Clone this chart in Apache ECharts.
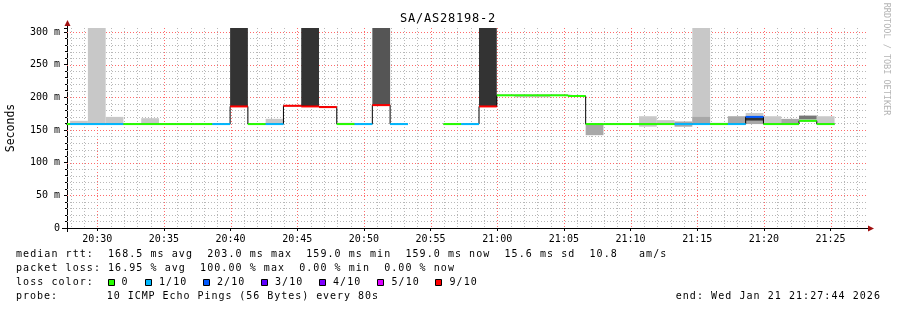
<!DOCTYPE html>
<html>
<head>
<meta charset="utf-8">
<script src="https://cdn.jsdelivr.net/npm/echarts@6.0.0/dist/echarts.min.js"></script>
<style>
html,body{margin:0;padding:0;background:#ffffff;}
#chart{width:897px;height:310px;}
</style>
</head>
<body>
<div id="chart"></div>
<script>
// ================= DATA =================
const chartTitle = 'SA/AS28198-2';
const yAxisTitle = 'Seconds';
const axisStart = '20:27:44';
const axisEnd = '21:27:44';
const stepSeconds = 80;
const xTickLabels = ['20:30','20:35','20:40','20:45','20:50','20:55','21:00','21:05','21:10','21:15','21:20','21:25'];
const yTickValues = [0, 50, 100, 150, 200, 250, 300];

// start time of each 80 s measurement step
const stepStarts = [
  '20:26:38','20:27:58','20:29:18','20:30:38','20:31:58','20:33:18','20:34:38','20:35:58',
  '20:37:18','20:38:38','20:39:58','20:41:18','20:42:38','20:43:58','20:45:18','20:46:38',
  '20:47:58','20:49:18','20:50:38','20:51:58','20:53:18','20:54:38','20:55:58','20:57:18',
  '20:58:38','20:59:58','21:01:18','21:02:38','21:03:58','21:05:18','21:06:38','21:07:58',
  '21:09:18','21:10:38','21:11:58','21:13:18','21:14:38','21:15:58','21:17:18','21:18:38',
  '21:19:58','21:21:18','21:22:38','21:23:58'
];
// median rtt (ms) per step, null = no reply (100% loss)
const medianMs = [
  159,159,159,159,159,159,159,159,
  159,159,186,159,159,187,186,185,
  159,159,188,159,null,null,159,159,
  186,203,203,203,203,202,159,159,
  159,159,159,159,159,159,159,170,
  159,159,164,159
];
// lost pings out of 10 per step
const lossCount = [
  0,1,1,1,0,0,0,0,
  0,1,9,0,1,9,9,9,
  0,1,9,1,10,10,0,1,
  9,0,0,0,0,0,0,0,
  0,0,0,1,1,0,1,2,
  0,0,0,0
];
// smoke: [step index, low ms, high ms, density level 0..4]  (350 = beyond the top)
const smokeBands = [
  [1,159,164,0],[2,159,350,0],[3,159,170,0],[5,159,168,0],
  [10,186,350,4],[12,159,167,0],[14,186,350,4],[16,159,161,0],
  [18,188,350,3],[24,186,350,4],[26,200,203,0],[27,200,203,0],
  [30,142,159,1],[33,155,171,0],[34,159,165,0],[35,155,163,1],
  [36,159,350,0],[36,159,170,1],[37,159,161,0],[38,159,171,1],
  [39,171,176,0],[39,164,169,4],[39,159,164,1],[40,159,171,0],
  [41,159,167,1],[42,166,172,2],[43,159,171,0]
];
const lossLegendLabels = ['0','1/10','2/10','3/10','4/10','5/10','9/10'];
const lossLegendLevels = [0,1,2,3,4,5,9];
const statsLine1 = 'median rtt:  168.5 ms avg  203.0 ms max  159.0 ms min  159.0 ms now  15.6 ms sd  10.8   am/s';
const statsLine2 = 'packet loss: 16.95 % avg  100.00 % max  0.00 % min  0.00 % now';
const lossLabel = 'loss color:';
const probeLine = 'probe:       10 ICMP Echo Pings (56 Bytes) every 80s';
const endLine = 'end: Wed Jan 21 21:27:44 2026';
const watermark = 'RRDTOOL / TOBI OETIKER';

// ================= STYLE =================
const lossColors = {0:'#26ff00',1:'#00b8ff',2:'#0059ff',3:'#5e00ff',4:'#7e00ff',5:'#dd00ff',6:'#ff0000',7:'#ff0000',8:'#ff0000',9:'#ff0000'};
const smokeShades = ['#c8c8c8','#a8a8a8','#777777','#555555','#333333'];
const MONO = '"DejaVu Sans Mono", monospace';

// ================= BUILD =================
const toSec = s => { const p = s.split(':').map(Number); return (p[0]-20)*3600 + p[1]*60 + (p[2]||0); };
const xMin = toSec(axisStart), xMax = toSec(axisEnd);
const colStart = stepStarts.map(toSec);
const colEnd = colStart.map(t => t + stepSeconds);
const xTickSec = xTickLabels.map(l => toSec(l + ':00'));
const fmtTime = v => { const m = Math.round(v/60); const h = 20 + Math.floor(m/60); const mm = m % 60; return h + ':' + (mm<10?'0':'') + mm; };

// grid lines (rrdtool style): minor every minute / 10 ms, major every 5 min / 50 ms
const gridLines = [];
for (let t = Math.ceil(xMin/60)*60; t < xMax; t += 60) gridLines.push([0, t, t % 300 === 0 ? 1 : 0]);
for (let v = 10; v <= 300; v += 10) gridLines.push([1, v, v % 50 === 0 ? 1 : 0]);

const smokeData = smokeBands.map(b => [colStart[b[0]], colEnd[b[0]], b[1], b[2], b[3]]);
const medianSegs = [];
const blackPts = [];
medianMs.forEach((m, i) => {
  if (m === null) { blackPts.push([colStart[i], '-']); return; }
  medianSegs.push([colStart[i], colEnd[i], m, lossCount[i]]);
  blackPts.push([colStart[i], m], [colEnd[i], m]);
});

// monospace text laid out on rrdtool's character grid
function monoText(str, x0, yc, adv, size, color) {
  const els = [];
  for (let i = 0; i < str.length; i++) {
    const ch = str[i];
    if (ch === ' ') continue;
    els.push({type:'text', x: x0 + i*adv, y: yc, z: 100, silent: true,
      style:{text: ch, font: size + 'px ' + MONO, fill: color, align:'left', verticalAlign:'middle', textAlign:'left', textVerticalAlign:'middle'}});
  }
  return els;
}

const ADV = 7.08;
const graphics = [];
// title
graphics.push(...monoText(chartTitle, 448 - chartTitle.length*8/2, 19, 8, 12, '#000'));
// stats lines
graphics.push(...monoText(statsLine1, 16, 254, ADV, 10, '#000'));
graphics.push(...monoText(statsLine2, 16, 268.3, ADV, 10, '#000'));
graphics.push(...monoText(lossLabel, 16, 282.5, ADV, 10, '#000'));
graphics.push(...monoText(probeLine, 16, 296.7, 6.98, 10, '#000'));
graphics.push(...monoText(endLine, 881 - endLine.length*ADV, 296.7, ADV, 10, '#000'));
// loss colour legend
const sqX = [108.5, 145.5, 203.5, 261.5, 319.5, 377.5, 435.5];
const lbX = [121.5, 159, 217, 275, 333, 391.5, 449.5];
lossLegendLabels.forEach((lab, i) => {
  graphics.push({type:'rect', z:100, silent:true, shape:{x:sqX[i], y:279.5, width:6, height:6},
    style:{fill: lossColors[lossLegendLevels[i]], stroke:'#000', lineWidth:1}});
  graphics.push(...monoText(lab, lbX[i], 282.5, ADV, 10, '#000'));
});
// watermark
graphics.push({type:'text', x:886, y:59, rotation:-Math.PI/2, z:100, silent:true,
  style:{text: watermark, font:'8.5px ' + MONO, fill:'#b4b4b4', align:'center', verticalAlign:'middle', textAlign:'center', textVerticalAlign:'middle'}});
// axis extensions and arrows
graphics.push({type:'line', z:100, silent:true, shape:{x1:62, y1:228.5, x2:67, y2:228.5}, style:{stroke:'#000', lineWidth:1}});
graphics.push({type:'line', z:100, silent:true, shape:{x1:67.5, y1:228, x2:67.5, y2:232}, style:{stroke:'#000', lineWidth:1}});
graphics.push({type:'line', z:100, silent:true, shape:{x1:67.5, y1:22, x2:67.5, y2:28}, style:{stroke:'#000', lineWidth:1}});
graphics.push({type:'line', z:100, silent:true, shape:{x1:867, y1:228.5, x2:869, y2:228.5}, style:{stroke:'#000', lineWidth:1}});
graphics.push({type:'polygon', z:101, silent:true, shape:{points:[[64.5,26],[70.5,26],[67.5,20]]}, style:{fill:'#a01010'}});
graphics.push({type:'polygon', z:101, silent:true, shape:{points:[[868,225.5],[868,231.5],[874,228.5]]}, style:{fill:'#a01010'}});

const chart = echarts.init(document.getElementById('chart'), null, {renderer:'canvas'});
chart.setOption({
  animation: false,
  backgroundColor: '#ffffff',
  grid: {left: 67, right: 30, top: 28, bottom: 82, outerBoundsMode: 'none', containLabel: false},
  xAxis: {
    type: 'value', min: xMin, max: xMax,
    splitLine: {show: false},
    axisLine: {show: true, lineStyle: {color: '#000', width: 1}},
    axisTick: {show: true, customValues: xTickSec, length: 3, lineStyle: {color: '#000'}},
    axisLabel: {customValues: xTickSec, formatter: fmtTime, fontFamily: MONO, fontSize: 10, color: '#000', margin: 6}
  },
  yAxis: {
    type: 'value', min: 0, max: 306, interval: 50,
    name: yAxisTitle, nameLocation: 'middle', nameGap: 50, nameRotate: 90,
    nameTextStyle: {fontFamily: MONO, fontSize: 11.5, color: '#000'},
    splitLine: {show: false},
    axisLine: {show: true, lineStyle: {color: '#000', width: 1}},
    axisTick: {show: true, length: 3, lineStyle: {color: '#000'}},
    minorTick: {show: true, splitNumber: 5, length: 2, lineStyle: {color: '#000'}},
    axisLabel: {showMaxLabel: true, formatter: v => (yTickValues.indexOf(v) < 0 ? '' : (v === 0 ? '0' : v + ' m')),
      fontFamily: MONO, fontSize: 10, color: '#000', margin: 7}
  },
  graphic: {elements: graphics},
  series: [
    {
      type: 'custom', name: 'grid', z: 1, silent: true, clip: true,
      data: gridLines,
      renderItem: (params, api) => {
        const cs = params.coordSys;
        const kind = api.value(0), val = api.value(1), major = api.value(2);
        const style = {stroke: major ? '#ff6a6a' : '#b8b8b8', lineWidth: 1, lineDash: [1, 2]};
        if (kind === 0) {
          const x = Math.round(api.coord([val, 0])[0]) + 0.5;
          return {type: 'line', shape: {x1: x, y1: cs.y, x2: x, y2: cs.y + cs.height}, style};
        }
        const y = Math.round(api.coord([xMin, val])[1]) + 0.5;
        return {type: 'line', shape: {x1: cs.x, y1: y, x2: cs.x + cs.width, y2: y}, style};
      }
    },
    {
      type: 'custom', name: 'smoke', z: 2, silent: true, clip: true,
      data: smokeData,
      encode: {x: [0, 1], y: [2, 3]},
      renderItem: (params, api) => {
        const p1 = api.coord([api.value(0), api.value(3)]);
        const p2 = api.coord([api.value(1), api.value(2)]);
        return {type: 'rect', shape: {x: p1[0], y: p1[1], width: p2[0] - p1[0], height: p2[1] - p1[1]},
          style: {fill: smokeShades[api.value(4)]}};
      }
    },
    {
      type: 'line', name: 'median outline', z: 3, silent: true, data: blackPts,
      showSymbol: false, symbol: 'none', connectNulls: false,
      lineStyle: {color: '#000', width: 1}
    },
    {
      type: 'custom', name: 'median', z: 4, silent: true, clip: true,
      data: medianSegs,
      encode: {x: [0, 1], y: 2},
      renderItem: (params, api) => {
        const p1 = api.coord([api.value(0), api.value(2)]);
        const p2 = api.coord([api.value(1), api.value(2)]);
        return {type: 'rect', shape: {x: p1[0], y: p1[1] - 1, width: p2[0] - p1[0], height: 2},
          style: {fill: lossColors[api.value(3)]}};
      }
    }
  ]
});
</script>
</body>
</html>
